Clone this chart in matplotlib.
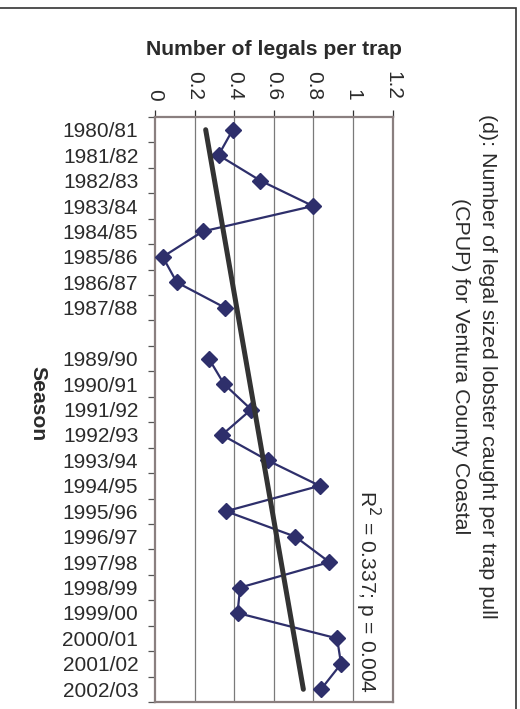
import numpy as np
import matplotlib
matplotlib.use("Agg")
import matplotlib.pyplot as plt
from matplotlib.patches import Rectangle

plt.rcParams['font.family'] = ['Liberation Sans', 'DejaVu Sans']

seasons = ["1980/81", "1981/82", "1982/83", "1983/84", "1984/85", "1985/86",
           "1986/87", "1987/88", "", "1989/90", "1990/91", "1991/92", "1992/93",
           "1993/94", "1994/95", "1995/96", "1996/97", "1997/98", "1998/99",
           "1999/00", "2000/01", "2001/02", "2002/03"]
cpup = [0.393, 0.321, 0.532, 0.798, 0.241, 0.039, 0.110, 0.354, np.nan,
        0.272, 0.349, 0.486, 0.338, 0.569, 0.832, 0.359, 0.709, 0.881,
        0.430, 0.417, 0.920, 0.940, 0.839]
xticks = [0, 0.2, 0.4, 0.6, 0.8, 1.0, 1.2]
xticklabels = ["0", "0.2", "0.4", "0.6", "0.8", "1", "1.2"]
title_lines = ["(d): Number of legal sized lobster caught per trap pull",
               "(CPUP) for Ventura County Coastal"]
stat_text = "R$^2$ = 0.337; p = 0.004"

W, H = 520, 709
DPI = 100
fig = plt.figure(figsize=(W / DPI, H / DPI), dpi=DPI)

def fx(px):
    return px / W

def fy(py):
    return 1 - py / H

ax = fig.add_axes([fx(155), fy(702), fx(392.5) - fx(155), fy(117) - fy(702)])

pos = np.arange(len(seasons))
vals = np.array(cpup, dtype=float)
ok = ~np.isnan(vals)

TXT = '#2b2b2b'
SP = '#8a7f7f'
FS = 15.0

ax.plot(vals, pos, color='#2e2f6b', lw=1.6, marker='D', ms=7.8,
        markerfacecolor='#2e2f6b', markeredgecolor='#2e2f6b', zorder=3)

coef = np.polyfit(pos[ok], vals[ok], 1)
tpos = np.array([pos[0], pos[-1]])
ax.plot(np.polyval(coef, tpos), tpos, color='#333333', lw=3.6,
        solid_capstyle='round', zorder=4)

ax.set_xlim(0, 1.2)
ax.set_ylim(len(seasons) - 0.5, -0.5)

ax.xaxis.tick_top()
ax.set_xticks(xticks)
ax.set_xticklabels(xticklabels, rotation=-90, fontsize=FS, color=TXT)
ax.tick_params(axis='x', length=5, width=0.9, color='#333333', pad=7)
for g in xticks[1:-1]:
    ax.axvline(g, color='#7a7a7a', lw=0.9, zorder=1)

ax.set_yticks(pos)
ax.set_yticklabels(seasons, fontsize=FS, color=TXT)
ax.set_yticks(np.arange(len(seasons) + 1) - 0.5, minor=True)
ax.tick_params(axis='y', which='major', length=0, pad=12)
ax.tick_params(axis='y', which='minor', length=5, width=0.9, color='#555555')

for s in ax.spines.values():
    s.set_color(SP)
    s.set_linewidth(1.6)

fig.text(fx(273.5), fy(55), "Number of legals per trap", fontsize=15.2,
         fontweight='bold', color=TXT, ha='center', va='baseline')
fig.text(fx(38), fy(404), "Season", fontsize=15.2, fontweight='bold',
         color=TXT, rotation=-90, ha='center', va='center')
fig.text(fx(487), fy(366), title_lines[0], fontsize=15.4, color=TXT,
         rotation=-90, ha='center', va='center')
fig.text(fx(460), fy(366), title_lines[1], fontsize=15.4, color=TXT,
         rotation=-90, ha='center', va='center')
fig.text(fx(368), fy(592), stat_text, fontsize=15.1, color=TXT,
         rotation=-90, ha='center', va='center')

fig.patches.append(Rectangle((-0.01, -0.01), fx(516) + 0.01, fy(8) + 0.01,
                             transform=fig.transFigure, fill=False,
                             edgecolor='#333333', lw=1.2))

fig.savefig("out.png", dpi=DPI)
